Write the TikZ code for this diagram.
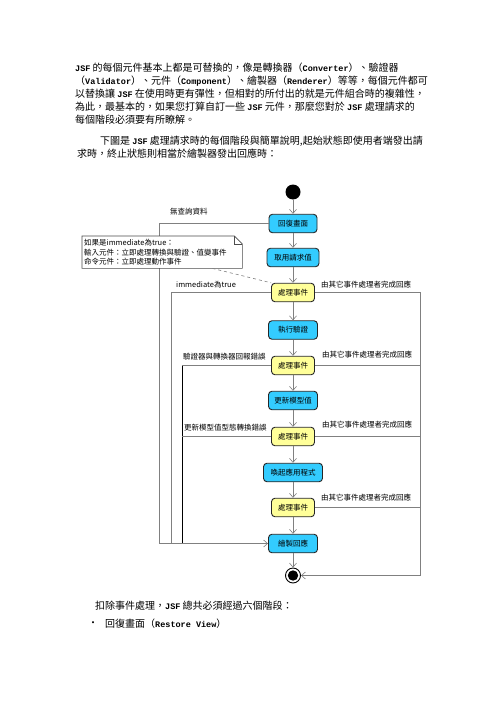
\documentclass[tikz,border=0pt]{standalone}
\usepackage{fontspec}
\setmainfont{Noto Sans CJK TC}
\newfontfamily\cjk{Noto Sans CJK TC}
\newfontfamily\monofam{Liberation Mono}
\newcommand\mono[1]{{\monofam\bfseries\fontsize{8.5bp}{10bp}\selectfont #1}}
\usetikzlibrary{arrows.meta,calc}
\definecolor{boxblue}{RGB}{51,204,255}
\definecolor{boxyellow}{RGB}{255,255,153}
\definecolor{linegray}{RGB}{128,128,128}
\begin{document}
\begin{tikzpicture}[x=1bp,y=-1bp,
  para/.style={anchor=west,inner sep=0,font=\cjk\fontsize{10bp}{12bp}\selectfont},
  stepbase/.style={draw=black!85,line width=0.9bp,rounded corners=3.5bp,minimum height=18.5bp,
    inner sep=0,font=\cjk\fontsize{7.5bp}{9bp}\selectfont},
  bluebox/.style={stepbase,fill=boxblue},
  ybox/.style={stepbase,fill=boxyellow,minimum width=43bp},
  conn/.style={draw=linegray,line width=0.6bp},
  flow/.style={conn,-{Straight Barb[length=4bp,width=7bp]}},
  lbl/.style={anchor=west,inner sep=0,font=\cjk\fontsize{7.5bp}{9bp}\selectfont},
]
\useasboundingbox[fill=white] (0,0) rectangle (496,702);

% ---- text paragraphs ----
\node[para] (t1) at (75,68) {\mono{JSF} 的每個元件基本上都是可替換的，像是轉換器（\mono{Converter}）、驗證器};
\node[para] (t2) at (75,81) {（\mono{Validator}）、元件（\mono{Component}）、繪製器（\mono{Renderer}）等等，每個元件都可};
\node[para] (t3) at (75,94) {以替換讓 \mono{JSF} 在使用時更有彈性，但相對的所付出的就是元件組合時的複雜性，};
\node[para] (t4) at (75,107) {為此，最基本的，如果您打算自訂一些 \mono{JSF} 元件，那麼您對於 \mono{JSF} 處理請求的};
\node[para] (t5) at (75,120) {每個階段必須要有所瞭解。};
\node[para] (t6) at (100,141) {下圖是 \mono{JSF} 處理請求時的每個階段與簡單說明,起始狀態即使用者端發出請};
\node[para] (t7) at (77,154) {求時，終止狀態則相當於繪製器發出回應時：};

% ---- diagram nodes ----
\node[circle,fill=black,minimum size=15bp,inner sep=0] (start) at (293,192) {};
\node[bluebox,minimum width=48bp] (rv) at (293,223.5) {回復畫面};
\node[bluebox,minimum width=52bp] (ar) at (293,257.5) {取用請求值};
\node[ybox] (pe1) at (293,292.5) {處理事件};
\node[bluebox,minimum width=49bp] (pv) at (293,330) {執行驗證};
\node[ybox] (pe2) at (293,365.5) {處理事件};
\node[bluebox,minimum width=49bp] (um) at (293,400.5) {更新模型值};
\node[ybox] (pe3) at (293,436.5) {處理事件};
\node[bluebox,minimum width=59bp] (ia) at (293,472.5) {喚起應用程式};
\node[ybox] (pe4) at (293,507.5) {處理事件};
\node[bluebox,minimum width=49bp] (rr) at (293,543.5) {繪製回應};
\node[circle,draw=black,line width=0.9bp,minimum size=15bp,inner sep=0] (end) at (293,575.5) {};
\fill[black] (end.center) circle (5.2bp);

% ---- main flow ----
\draw[flow] (start) -- (rv);
\draw[flow] (rv) -- (ar);
\draw[flow] (ar) -- (pe1);
\draw[flow] (pe1) -- (pv);
\draw[flow] (pv) -- (pe2);
\draw[flow] (pe2) -- (um);
\draw[flow] (um) -- (pe3);
\draw[flow] (pe3) -- (ia);
\draw[flow] (ia) -- (pe4);
\draw[flow] (pe4) -- (rr);
\draw[flow] (rr) -- (end);

% ---- guide coordinates ----
\coordinate (xa) at (159,0);
\coordinate (xb) at (171,0);
\coordinate (xc) at (182,0);
\coordinate (xr) at (420,0);

% ---- left returns ----
\draw[conn] (rv.west) -- (rv.west -| xa) -- (rr.west -| xa);
\draw[conn] (pe1.west) -- (pe1.west -| xb) -- (rr.west -| xb);
\draw[conn] (pe2.west) -- (pe2.west -| xc);
\draw[draw=black,line width=0.9bp] (pe2.west -| xc) -- (rr.west -| xc);
\draw[conn] (pe3.west) -- (pe3.west -| xc);
\draw[flow] (rr.west -| xa) -- (rr.west);

% ---- right returns ----
\draw[conn] (pe2.east) -- (pe2.east -| xr);
\draw[conn] (pe3.east) -- (pe3.east -| xr);
\draw[conn] (pe4.east) -- (pe4.east -| xr);
\draw[flow] (pe1.east) -- (pe1.east -| xr) -- (end.east -| xr) -- (end.east);

% ---- labels ----
\node[lbl] (l0) at (170,212) {無查詢資料};
\node[lbl] (l1) at (176,285) {immediate為true};
\node[lbl] (l2) at (183,357) {驗證器與轉換器回報錯誤};
\node[lbl] (l3) at (184,428) {更新模型值型態轉換錯誤};
\node[lbl] (r1) at (321,285) {由其它事件處理者完成回應};
\node[lbl] (r2) at (322,355) {由其它事件處理者完成回應};
\node[lbl] (r3) at (322,425) {由其它事件處理者完成回應};
\node[lbl] (r4) at (321,498) {由其它事件處理者完成回應};

% ---- note ----
\node[anchor=north west,fill=white,minimum width=160bp,minimum height=32bp,inner sep=0,
  text width=158bp,align=left,font=\cjk\fontsize{7.5bp}{9.7bp}\selectfont] (note) at (82,236)
  {\hspace*{1bp}如果是immediate為true：\\\hspace*{1bp}輸入元件：立即處理轉換與驗證、值變事件\\\hspace*{1bp}命令元件：立即處理動作事件};
\draw[draw=black!70,line width=0.6bp] (note.south west) -- (note.north west) -- ([xshift=-8bp]note.north east)
  -- ([yshift=-8bp]note.north east) -- (note.south east) -- cycle;
\draw[draw=black!70,line width=0.6bp] ([xshift=-8bp]note.north east) -- ([xshift=-8bp,yshift=-8bp]note.north east)
  -- ([yshift=-8bp]note.north east);
\draw[conn,dashed] ([xshift=-30bp]note.south east) -- (pe1.north west);

% ---- bottom text ----
\node[para] (b1) at (95,606) {扣除事件處理，\mono{JSF} 總共必須經過六個階段：};
\node[para] (bul) at (88,624) {•};
\node[para] (b2) at (105,624) {回復畫面（\mono{Restore View}）};
\end{tikzpicture}
\end{document}
